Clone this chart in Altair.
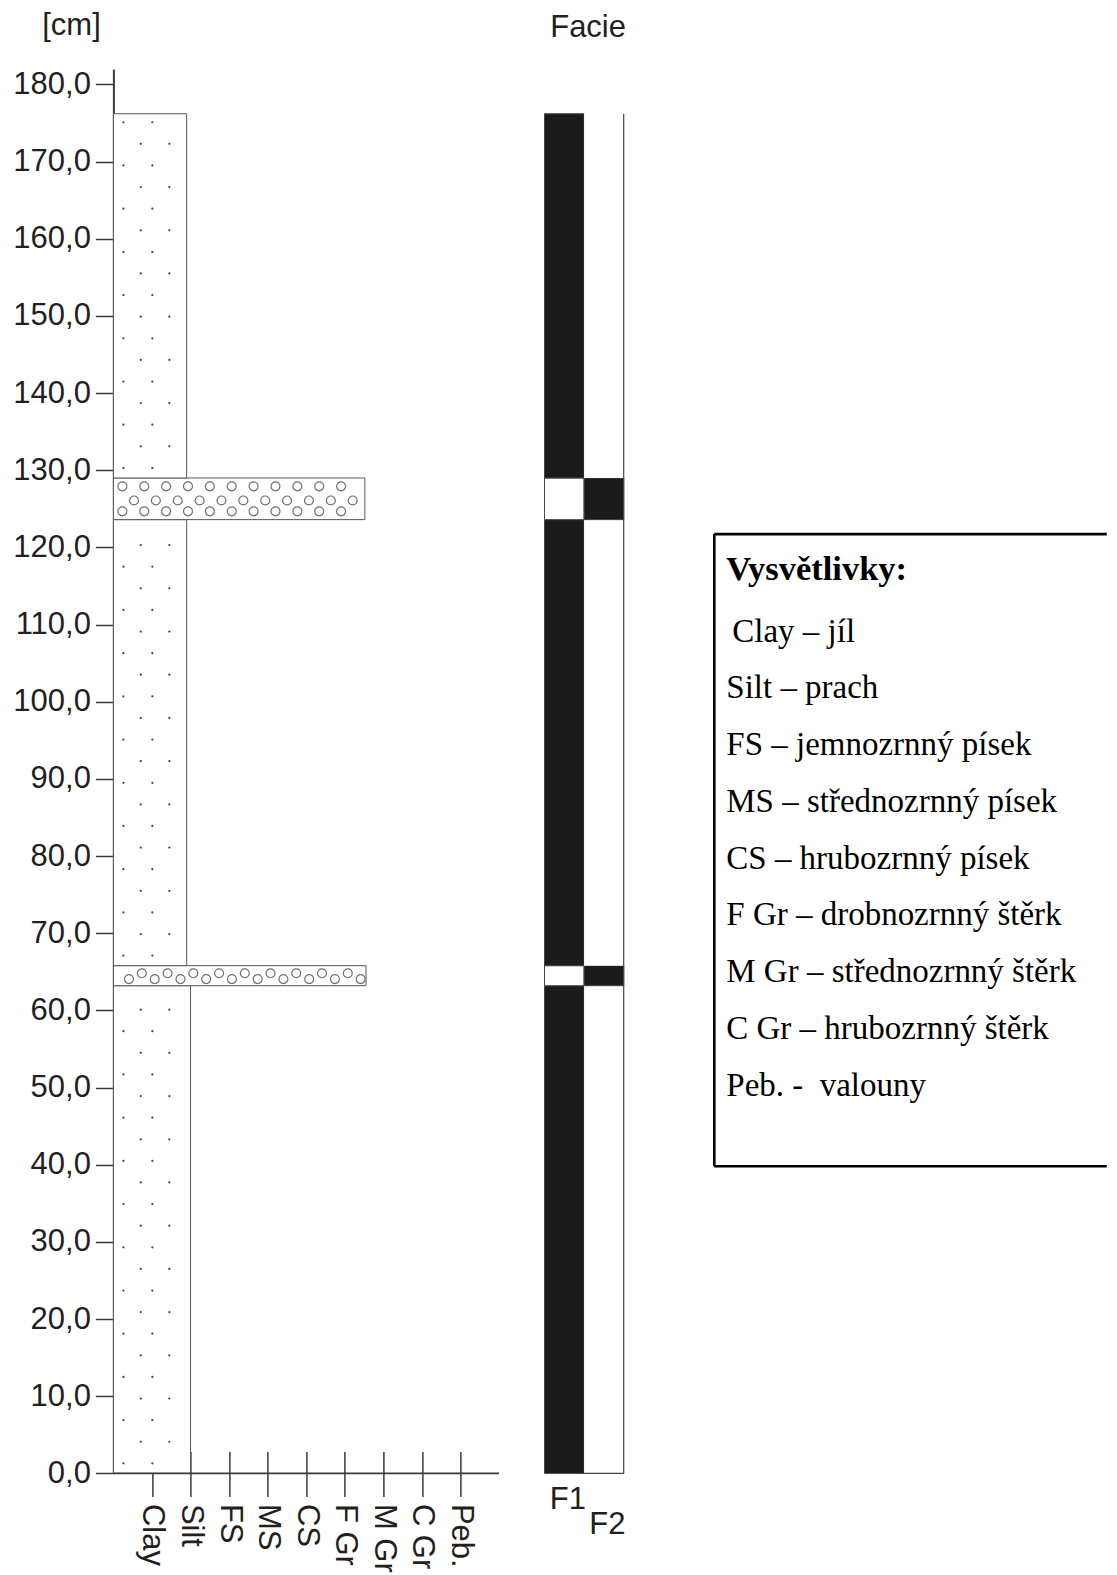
import altair as alt
import pandas as pd

# ---------------- data ----------------
grain_labels = ["Clay", "Silt", "FS", "MS", "CS", "F Gr", "M Gr", "C Gr", "Peb."]
grain_ticks = list(range(1, len(grain_labels) + 1))
depth_ticks = list(range(0, 181, 10))

bed_bottom = [0.0, 63.2, 65.8, 123.6, 129.0]      # cm
bed_top = [63.2, 65.8, 123.6, 129.0, 176.2]       # cm
bed_grain = [2.0, 6.55, 1.9, 6.52, 1.9]           # grain-size reached (Clay=1 ... Peb.=9)
bed_texture = ["dots", "gravel", "dots", "gravel", "dots"]

facies_labels = ["F1", "F2"]
bed_facies = ["F1", "F2", "F1", "F2", "F1"]

legend_title = "Vysvětlivky:"
legend_items = [
    "Clay – jíl",
    "Silt – prach",
    "FS – jemnozrnný písek",
    "MS – střednozrnný písek",
    "CS – hrubozrnný písek",
    "F Gr – drobnozrnný štěrk",
    "M Gr – střednozrnný štěrk",
    "C Gr – hrubozrnný štěrk",
    "Peb. -\u00a0 valouny",
]

# ---------------- layout / style ----------------
SANS = "Liberation Sans"
SERIF = "Liberation Serif"
TXT = "#231f20"
AX = "#3a3a3a"
FS = 31
FS_LEG = 33
FS_LEG_T = 34.5
UNIT = 38.57
W_A = 10 * UNIT
H = 1404.4
Y_MAX = 182
W_B = 79.2
GAP = 45.1
W_C = 437.2
PLOT_TOP = 68.3
C_LEFT = 112.7 + W_A + GAP + W_B + GAP
BOX_L = 712.5 - C_LEFT
BOX_T = 533.4 - PLOT_TOP
BOX_B = 1165.5 - PLOT_TOP
TEXT_X = 724.5 - C_LEFT
TITLE_Y = 569.5 - PLOT_TOP
ITEM_Y0 = 631 - PLOT_TOP
ITEM_STEP = 56.75

# ---------------- texture (pattern fill) ----------------
dot_pts = []
for b, t, g, tex in zip(bed_bottom, bed_top, bed_grain, bed_texture):
    if tex != "dots":
        continue
    y = b + 1.3
    k = 0
    while y < t - 0.9:
        xs = [0.26, 1.01] if k % 2 == 0 else [0.71, 1.45]
        for x in xs:
            if x < g - 0.15:
                dot_pts.append({"x": x, "y": y})
        y += 2.8
        k += 1

grav_pts = []
for b, t, g, tex in zip(bed_bottom, bed_top, bed_grain, bed_texture):
    if tex != "gravel":
        continue
    th = t - b
    if th > 4:
        for frac, start in [(0.8, 0.233), (0.46, 0.534), (0.2, 0.233)]:
            x = start
            while x < g - 0.15:
                grav_pts.append({"x": x, "y": b + frac * th})
                x += 0.567
    else:
        x = 0.404
        k = 0
        while x < g - 0.1:
            grav_pts.append({"x": x, "y": b + (0.33 if k % 2 == 0 else 0.62) * th})
            x += 0.3337
            k += 1

beds = pd.DataFrame({"x0": [0.0] * len(bed_bottom), "x1": bed_grain,
                     "y0": bed_bottom, "y1": bed_top})
dots = pd.DataFrame(dot_pts)
grav = pd.DataFrame(grav_pts)
base = pd.DataFrame({"x0": [0.0], "x1": [10.0], "y0": [0.0]})

# ---------------- panel A: grain-size log ----------------
yscale = alt.Scale(domain=[0, Y_MAX], nice=False, zero=False)
xscale_A = alt.Scale(domain=[0, 10], nice=False, zero=False)

label_expr_x = "[" + ",".join(["''"] + ["'%s'" % g for g in grain_labels]) + "][datum.value]"

y_axis = alt.Axis(
    values=depth_ticks,
    labelExpr="replace(format(datum.value, '.1f'), '.', ',')",
    title="[cm]", titleAngle=0, titleAlign="center", titleBaseline="alphabetic",
    titleX=-42.4, titleY=-34.8, titleFont=SANS, titleFontSize=FS,
    titleFontWeight="normal", titleColor=TXT,
    labelFont=SANS, labelFontSize=FS, labelColor=TXT, labelPadding=5,
    tickSize=18, tickWidth=1.5, tickColor=AX,
    domainColor=AX, domainWidth=2, grid=False,
)
x_axis_A = alt.Axis(
    values=grain_ticks, labelExpr=label_expr_x, title=None,
    labelAngle=90, labelAlign="left", labelBaseline="middle",
    labelPadding=7, tickSize=45, tickWidth=1.5, tickColor=AX,
    domain=False, offset=-22, grid=False,
    labelFont=SANS, labelFontSize=FS, labelColor=TXT,
    labelOverlap=False, labelBound=False, labelFlush=False,
)

rect_A = alt.Chart(beds).mark_rect(fill="white", stroke="#555", strokeWidth=1).encode(
    x=alt.X("x0:Q", scale=xscale_A, axis=x_axis_A),
    x2="x1:Q",
    y=alt.Y("y0:Q", scale=yscale, axis=y_axis),
    y2="y1:Q",
)
dots_A = alt.Chart(dots).mark_circle(size=5, color="#444", opacity=1).encode(
    x=alt.X("x:Q", scale=xscale_A, axis=x_axis_A),
    y=alt.Y("y:Q", scale=yscale, axis=y_axis),
)
grav_A = alt.Chart(grav).mark_point(shape="circle", filled=False, size=80,
                                    stroke="#707070", strokeWidth=1.2, opacity=1).encode(
    x=alt.X("x:Q", scale=xscale_A, axis=x_axis_A),
    y=alt.Y("y:Q", scale=yscale, axis=y_axis),
)
base_A = alt.Chart(base).mark_rule(color=AX, strokeWidth=1.8).encode(
    x=alt.X("x0:Q", scale=xscale_A, axis=x_axis_A),
    x2="x1:Q",
    y=alt.Y("y0:Q", scale=yscale, axis=y_axis),
)
panel_A = alt.layer(rect_A, dots_A, grav_A, base_A).properties(width=W_A, height=H)

# ---------------- panel B: facies ----------------
fac_rows = []
for b, t, f in zip(bed_bottom, bed_top, bed_facies):
    for i, name in enumerate(facies_labels):
        active = name == f
        fac_rows.append({"x0": i, "x1": i + 1, "y0": b, "y1": t,
                         "fill": "#1b1b1b" if active else "#ffffff",
                         "stroke": "#444444" if (active or i == 0) else "transparent"})
fac = pd.DataFrame(fac_rows)
n_fac = len(facies_labels)
col_top = max(bed_top)
edges = pd.DataFrame({
    "x0": [n_fac, n_fac - 1], "x1": [n_fac, n_fac],
    "y0": [0.0, 0.0], "y1": [col_top, 0.0],
})

xscale_B = alt.Scale(domain=[0, n_fac], nice=False, zero=False)
fac_expr = "[" + ",".join("'%s'" % f for f in facies_labels) + "][floor(datum.value)]"
x_axis_B = alt.Axis(
    values=[i + 0.5 for i in range(n_fac)], labelExpr=fac_expr, title=None,
    labelAngle=0, labelAlign="center", labelBaseline="top",
    labelPadding={"condition": {"test": "datum.value > 1", "value": 36}, "value": 11},
    labelOffset=3, ticks=False, tickSize=0, domain=False, grid=False,
    labelFont=SANS, labelFontSize=FS, labelColor=TXT,
    labelOverlap=False, labelBound=False, labelFlush=False,
)
cells_B = alt.Chart(fac).mark_rect(strokeWidth=1).encode(
    x=alt.X("x0:Q", scale=xscale_B, axis=x_axis_B),
    x2="x1:Q",
    y=alt.Y("y0:Q", scale=yscale, axis=None),
    y2="y1:Q",
    fill=alt.Fill("fill:N", scale=None),
    stroke=alt.Stroke("stroke:N", scale=None),
)
edges_B = alt.Chart(edges).mark_rule(color="#444", strokeWidth=1.2).encode(
    x=alt.X("x0:Q", scale=xscale_B, axis=x_axis_B),
    x2="x1:Q",
    y=alt.Y("y0:Q", scale=yscale, axis=None),
    y2="y1:Q",
)
panel_B = alt.layer(cells_B, edges_B).properties(
    width=W_B, height=H,
    title=alt.TitleParams("Facie", font=SANS, fontSize=FS, fontWeight="normal", color=TXT,
                          anchor="middle", dx=4, offset=1, baseline="alphabetic"),
)

# ---------------- panel C: explanation box ----------------
box = pd.DataFrame({
    "x": [BOX_L, BOX_L, BOX_L],
    "x2": [W_C, W_C, BOX_L],
    "y": [BOX_T, BOX_B, BOX_T],
    "y2": [BOX_T, BOX_B, BOX_B],
})
rows = pd.DataFrame({
    "text": [legend_title] + legend_items,
    "kind": ["title", "first"] + ["item"] * (len(legend_items) - 1),
    "x": [TEXT_X] * (len(legend_items) + 1),
    "y": [TITLE_Y] + [ITEM_Y0 + ITEM_STEP * i for i in range(len(legend_items))],
})
xs_C = alt.Scale(domain=[0, W_C], nice=False, zero=False)
ys_C = alt.Scale(domain=[0, H], nice=False, zero=False, reverse=True)

box_C = alt.Chart(box).mark_rule(color="#000", strokeWidth=2.6).encode(
    x=alt.X("x:Q", scale=xs_C, axis=None), x2="x2:Q",
    y=alt.Y("y:Q", scale=ys_C, axis=None), y2="y2:Q",
)


def text_layer(kind, size, weight, dx):
    return alt.Chart(rows[rows.kind == kind]).mark_text(
        font=SERIF, fontSize=size, fontWeight=weight, color="#000",
        align="left", baseline="middle", dx=dx,
    ).encode(
        x=alt.X("x:Q", scale=xs_C, axis=None),
        y=alt.Y("y:Q", scale=ys_C, axis=None),
        text="text:N",
    )


panel_C = alt.layer(
    box_C,
    text_layer("title", FS_LEG_T, "bold", 0),
    text_layer("first", FS_LEG, "normal", 6),
    text_layer("item", FS_LEG, "normal", 0),
).properties(width=W_C, height=H)

chart = alt.hconcat(panel_A, panel_B, panel_C, spacing=GAP, bounds="flush").properties(
    padding={"left": 4.4, "top": 1, "right": 0, "bottom": 4},
    background="white",
).configure_view(stroke="transparent", strokeWidth=0)

chart.save("out.html", embed_options={"renderer": "svg", "actions": False})
